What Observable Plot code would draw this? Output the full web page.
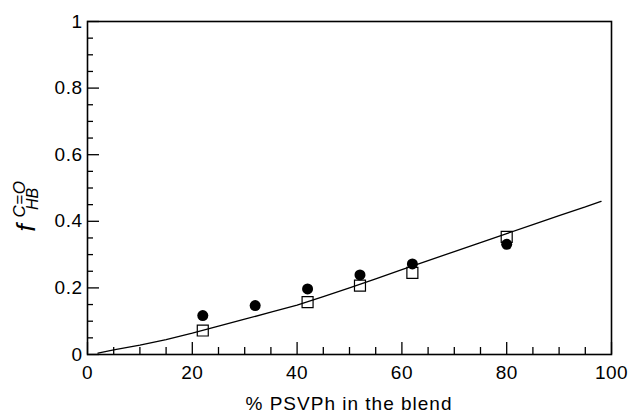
<!DOCTYPE html>
<html>
<head>
<meta charset="utf-8">
<script src="https://cdn.jsdelivr.net/npm/d3@7"></script>
<script src="https://cdn.jsdelivr.net/npm/@observablehq/plot@0.6"></script>
<style>
  html, body { margin: 0; padding: 0; background: #fff; }
  svg { display: block; }
</style>
</head>
<body>
<div id="chart"></div>
<script>
// Data
const circleX = [22, 32, 42, 52, 62, 80];
const circleY = [0.117, 0.147, 0.197, 0.239, 0.272, 0.331];
const squareX = [22, 42, 52, 62, 80];
const squareY = [0.072, 0.157, 0.207, 0.245, 0.353];
const lineX = [2, 5, 10, 15, 20, 25, 30, 35, 40, 45, 50, 55, 60, 65, 70, 75, 80, 85, 90, 95, 98];
const lineY = [0.004, 0.014, 0.028, 0.045, 0.064, 0.085, 0.106, 0.127, 0.148, 0.174, 0.2, 0.227, 0.255, 0.282, 0.309, 0.336, 0.363, 0.39, 0.417, 0.443, 0.46];
const xMajor = [0, 20, 40, 60, 80, 100];
const xMinor = [5, 10, 15, 25, 30, 35, 45, 50, 55, 65, 70, 75, 85, 90, 95];
const yMajor = [0, 0.2, 0.4, 0.6, 0.8, 1];
const yMinor = [0.05, 0.1, 0.15, 0.25, 0.3, 0.35, 0.45, 0.5, 0.55, 0.65, 0.7, 0.75, 0.85, 0.9, 0.95];
const xLabel = "% PSVPh in the blend";

const W = 629, H = 414;
const mL = 87, mR = 18, mT = 21, mB = 60;
const innerW = W - mL - mR, innerH = H - mT - mB;

const circles = circleX.map((x, i) => ({x, y: circleY[i]}));
const squares = squareX.map((x, i) => ({x, y: squareY[i]}));
const curve = lineX.map((x, i) => ({x, y: lineY[i]}));

const font = "'Liberation Sans', Arial, Helvetica, sans-serif";

const chart = Plot.plot({
  width: W, height: H,
  marginLeft: mL, marginRight: mR, marginTop: mT, marginBottom: mB,
  style: {fontFamily: font, background: "#fff", color: "#000"},
  x: {domain: [0, 100]},
  y: {domain: [0, 1]},
  marks: [
    Plot.axisX(xMajor, {tickSize: 0, tickPadding: 11, fontSize: 19, label: null, tickFormat: d => String(d)}),
    Plot.axisY(yMajor, {tickSize: 0, tickPadding: 5, fontSize: 19, label: null, tickFormat: d => String(d)}),
    Plot.ruleX(xMajor, {x: d => d, insetTop: innerH - 12, stroke: "#000", strokeWidth: 1.3}),
    Plot.ruleX(xMinor, {x: d => d, insetTop: innerH - 7, stroke: "#000", strokeWidth: 1.3}),
    Plot.ruleY(yMajor, {y: d => d, insetRight: innerW - 12, stroke: "#000", strokeWidth: 1.3}),
    Plot.ruleY(yMinor, {y: d => d, insetRight: innerW - 6, stroke: "#000", strokeWidth: 1.3}),
    Plot.line(curve, {x: "x", y: "y", stroke: "#000", strokeWidth: 1.3}),
    Plot.dot(squares, {x: "x", y: "y", symbol: "square", r: 6.2, fill: "none", stroke: "#000", strokeWidth: 1.2}),
    Plot.dot(circles, {x: "x", y: "y", r: 5.5, fill: "#000", stroke: "none"}),
    Plot.frame({stroke: "#000", strokeWidth: 1.6})
  ]
});

document.getElementById("chart").appendChild(chart);

const svg = d3.select(chart);
svg.selectAll("g[aria-label='x-axis tick label'] text, g[aria-label='y-axis tick label'] text")
  .style("letter-spacing", "0.5px");

// x-axis title
svg.append("text")
  .attr("x", mL + innerW / 2)
  .attr("y", 410)
  .attr("text-anchor", "middle")
  .attr("font-family", font)
  .attr("font-size", 19)
  .attr("letter-spacing", "1px")
  .attr("fill", "#000")
  .text(xLabel);

// y-axis title: f with superscript C=O and subscript HB
const yl = [
  {t: "f", x: 35, y: 228, fs: 26, ls: 0},
  {t: "C=O", x: 25, y: 199, fs: 17, ls: 0.5},
  {t: "HB", x: 38, y: 199, fs: 16, ls: 0}
];
yl.forEach(d => {
  svg.append("text")
    .attr("transform", `translate(${d.x},${d.y}) rotate(-90)`)
    .attr("font-family", font)
    .attr("font-style", "italic")
    .attr("font-size", d.fs)
    .attr("letter-spacing", `${d.ls}px`)
    .attr("fill", "#000")
    .text(d.t);
});
</script>
</body>
</html>
